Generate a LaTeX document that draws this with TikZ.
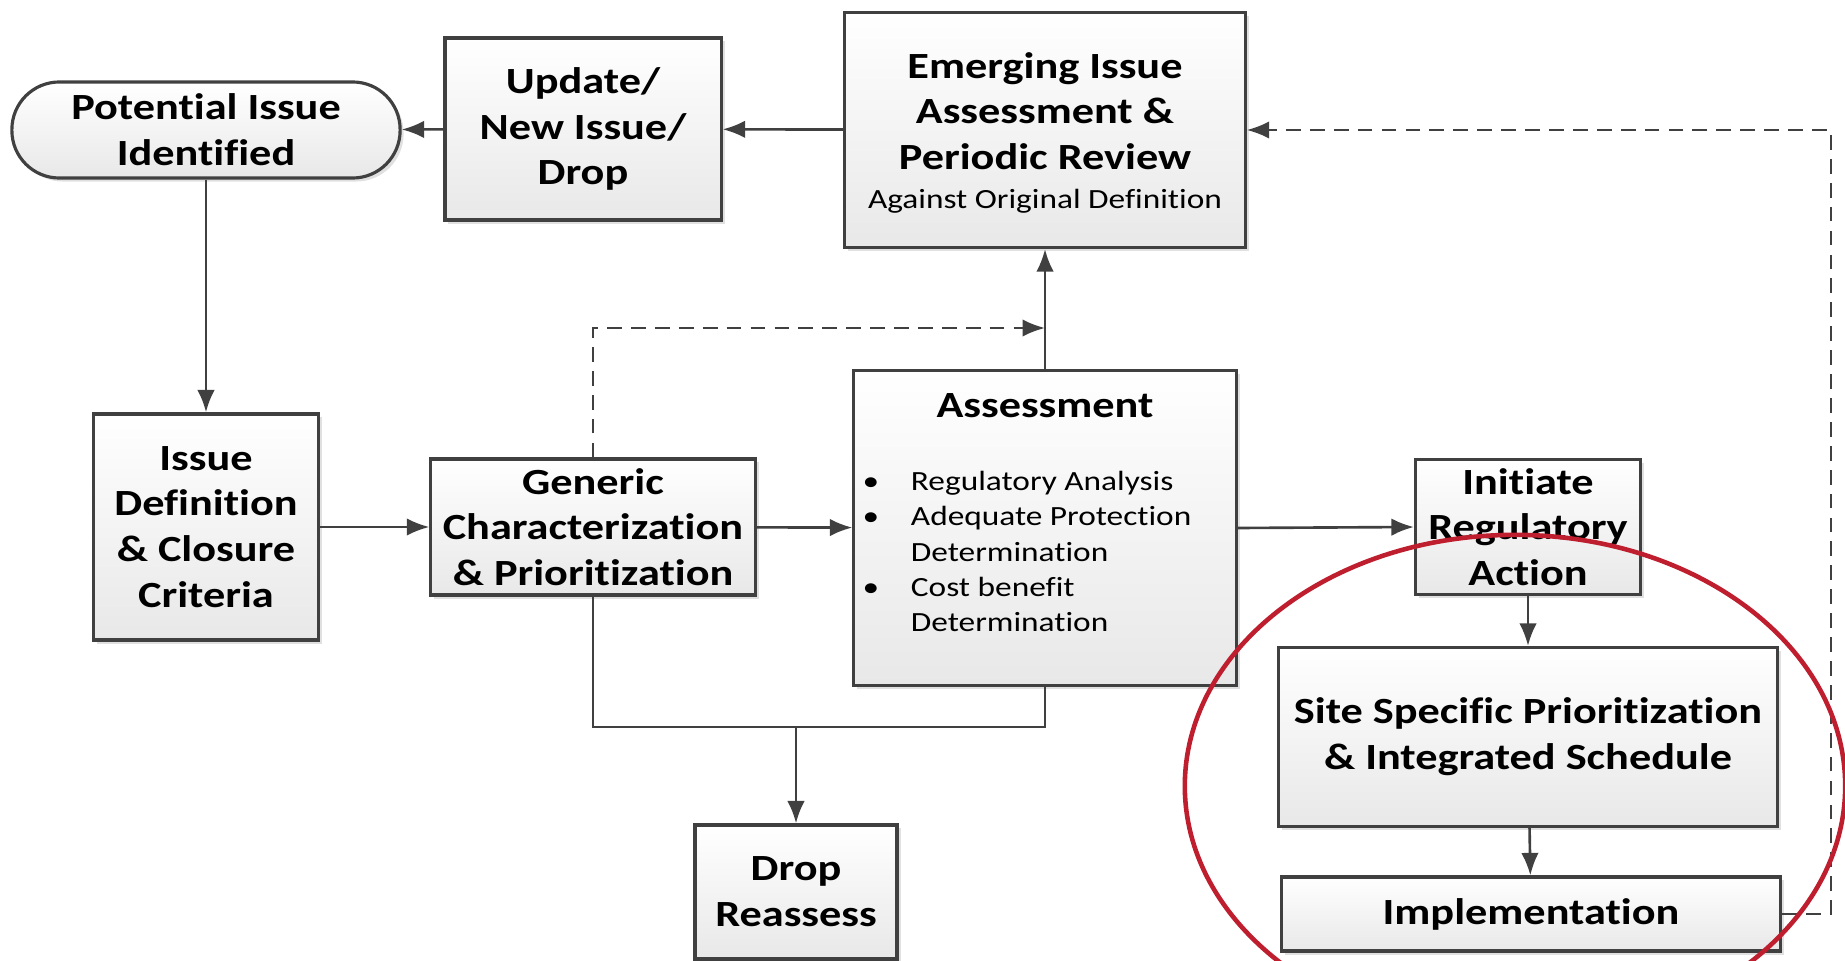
\documentclass[tikz,border=0pt]{standalone}
\usepackage{fontspec}
\setmainfont{Carlito}[FakeStretch=1.2,Ligatures={NoCommon}]
\usetikzlibrary{arrows.meta,shadows}
\definecolor{linegray}{RGB}{64,64,64}
\definecolor{circlered}{RGB}{190,30,45}
\begin{document}
\begin{tikzpicture}[x=0.01cm,y=-0.01cm,
	>={Latex[length=6.4pt,width=5pt]},
	title/.style={font=\fontsize{10.5}{13}\selectfont\bfseries},
	small/.style={font=\fontsize{7.9}{10}\selectfont},
	box/.style={title,draw=linegray,line width=0.9pt,top color=white,bottom color=black!9,
		drop shadow={shadow xshift=1pt,shadow yshift=-1pt,fill=black!20,opacity=0.6},
		align=center,inner sep=0pt},
	link/.style={draw=linegray,line width=0.75pt},
	flow/.style={link,->},
	back/.style={flow,dash pattern=on 4.2pt off 2.6pt}]
	\clip (0,0) rectangle (1845,961);
	% top row
	\node[box,minimum width=3.88cm,minimum height=0.96cm,rounded corners=13.5pt] (potential) at (206,130) {Potential Issue\\Identified};
	\node[box,minimum width=2.76cm,minimum height=1.82cm] (update) at (583,129) {Update/\\New Issue/\\Drop};
	\node[box,minimum width=4cm,minimum height=2.35cm] (emerging) at (1045,130) {};
	\node[title,align=center,inner sep=0pt] (emergingtext) at (1045,133) {Emerging Issue\\Assessment \&\\Periodic Review\\[-1.8pt]{\fontsize{7.9}{10}\selectfont\mdseries Against Original Definition}};
	% middle row
	\node[box,minimum width=2.25cm,minimum height=2.26cm] (issue) at (206,527) {Issue\\Definition\\\& Closure\\Criteria};
	\node[box,minimum width=3.24cm,minimum height=1.36cm] (generic) at (593,527) {Generic\\Characterization\\\& Prioritization};
	\node[box,minimum width=3.82cm,minimum height=3.14cm] (assess) at (1045,528) {};
	\node[title] (assesstitle) at (1045,406) {Assessment};
	\node[small,anchor=west,inner sep=0pt] (bullets) at (862,554) {\begin{tabular}{@{}l@{\hspace{9pt}}l@{}}
		\textbullet & Regulatory Analysis\\
		\textbullet & Adequate Protection\\
		& Determination\\
		\textbullet & Cost benefit\\
		& Determination
	\end{tabular}};
	\node[box,minimum width=2.25cm,minimum height=1.35cm] (initiate) at (1528,527) {Initiate\\Regulatory\\Action};
	% bottom row
	\node[box,minimum width=2.02cm,minimum height=1.34cm] (drop) at (796,892) {Drop\\Reassess};
	\node[box,minimum width=4.99cm,minimum height=1.79cm] (site) at (1528,737) {Site Specific Prioritization\\\& Integrated Schedule};
	\node[box,minimum width=4.99cm,minimum height=0.74cm] (impl) at (1531,914) {Implementation};
	\coordinate (merge) at (1045,328);
	\coordinate (split) at (796,727);
	\coordinate (corner) at (1831,914);
	% connectors
	\draw[flow] (update) -- (potential);
	\draw[flow] (emerging) -- (update);
	\draw[flow] (potential) -- (issue);
	\draw[flow] (issue) -- (generic);
	\draw[flow] (generic) -- (assess);
	\draw[flow] (assess.east) -- (initiate.west);
	\draw[flow] (assess) -- (emerging);
	\draw[back] (generic.north) |- (merge);
	\draw[link] (generic.south) |- (split) -| (assess.south);
	\draw[flow] (split) -- (drop);
	\draw[flow] (initiate) -- (site);
	\draw[flow] (site) -- (impl);
	\draw[back] (impl.east) -- (corner) |- (emerging.east);
	% highlight
	\draw[circlered,line width=1.3pt] (1515,786) ellipse [x radius=3.3cm,y radius=2.51cm];
\end{tikzpicture}
\end{document}
